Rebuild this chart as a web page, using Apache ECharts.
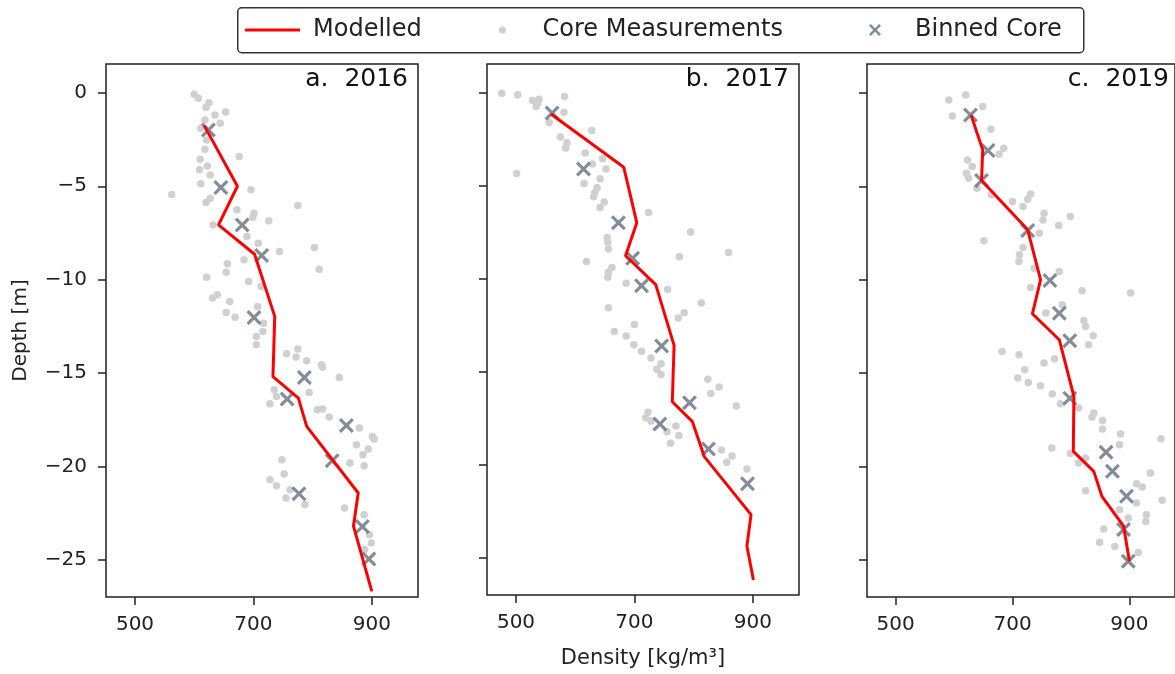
<!DOCTYPE html>
<html>
<head>
<meta charset="utf-8">
<script src="https://cdn.jsdelivr.net/npm/echarts@6/dist/echarts.min.js"></script>
<style>html,body{margin:0;padding:0;background:#fff;}#chart{width:1175px;height:674px;}</style>
</head>
<body>
<div id="chart"></div>
<script>
// ---------- data (density kg/m3, depth m) ----------
const panelTitles = ['a.  2016', 'b.  2017', 'c.  2019'];
const densityTicks = [500, 700, 900];
const depthTicks = [0, -5, -10, -15, -20, -25];
const seriesNames = ['Modelled', 'Core Measurements', 'Binned Core'];

const modelled2016 = [[617,-1.75],[673,-5.0],[641,-7.07],[702,-8.64],[736,-11.97],[733,-15.19],[776,-16.35],[790,-17.86],[877,-21.43],[869,-23.2],[900,-26.7]];
const binned2016 = [[624,-1.98],[645,-5.07],[681,-7.07],[714,-8.71],[701,-12.03],[786,-15.24],[757,-16.4],[857,-17.81],[833,-19.7],[777,-21.47],[884,-23.22],[895,-24.96]];
const core2016 = [[600,-0.07],[607,-0.29],[625,-0.52],[620,-0.77],[635,-1.18],[653,-1.02],[618,-1.45],[644,-1.62],[611,-1.89],[621,-2.52],[618,-3.02],[676,-3.41],[610,-3.55],[622,-3.91],[609,-4.12],[627,-4.39],[611,-4.87],[696,-5.19],[562,-5.44],[627,-5.64],[620,-5.87],[775,-6.03],[672,-6.26],[701,-6.44],[699,-6.66],[726,-6.85],[632,-7.07],[689,-7.69],[708,-8.05],[803,-8.28],[744,-8.49],[684,-8.94],[656,-9.15],[654,-9.6],[811,-9.44],[621,-9.87],[692,-10.1],[713,-10.37],[631,-10.99],[639,-10.81],[660,-11.17],[654,-11.76],[669,-12.01],[707,-11.44],[717,-12.33],[716,-12.78],[705,-13.04],[705,-13.49],[756,-13.97],[775,-13.72],[772,-14.15],[790,-14.35],[815,-14.56],[817,-14.7],[845,-15.24],[794,-16.04],[735,-15.9],[739,-16.26],[728,-16.65],[808,-16.97],[817,-16.93],[828,-17.36],[879,-17.95],[901,-18.4],[904,-18.54],[874,-18.84],[894,-19.07],[885,-19.38],[863,-19.82],[887,-19.97],[748,-19.65],[752,-20.41],[728,-20.72],[739,-21.04],[762,-21.25],[755,-21.7],[787,-22.05],[854,-22.23],[887,-22.59],[896,-23.66],[899,-24.11],[888,-24.46]];

const modelled2017 = [[559,-1.14],[682,-4.0],[704,-6.98],[685,-8.76],[736,-10.31],[767,-13.58],[764,-16.61],[798,-17.68],[818,-19.56],[897,-22.68],[890,-24.37],[901,-26.19]];
const binned2017 = [[561,-1.09],[614,-4.09],[673,-6.98],[697,-8.89],[712,-10.37],[746,-13.61],[793,-16.67],[743,-17.81],[825,-19.15],[891,-21.02]];
const core2017 = [[476,-0.02],[503,-0.11],[528,-0.41],[539,-0.34],[534,-0.73],[537,-0.55],[582,-0.2],[581,-1.05],[556,-1.59],[628,-2.02],[575,-2.37],[586,-2.69],[584,-2.96],[617,-3.23],[646,-3.55],[629,-3.82],[652,-4.09],[501,-4.34],[642,-4.62],[615,-4.87],[637,-5.1],[633,-5.37],[631,-5.59],[649,-5.87],[642,-6.17],[724,-6.44],[795,-7.48],[654,-7.78],[655,-8.05],[656,-8.4],[859,-8.58],[776,-8.81],[619,-9.07],[662,-9.39],[656,-9.65],[655,-9.92],[686,-10.24],[756,-10.58],[813,-11.3],[656,-11.55],[784,-11.83],[774,-12.1],[700,-12.46],[666,-12.83],[686,-13.08],[699,-13.54],[712,-13.9],[728,-14.26],[745,-14.56],[738,-14.86],[745,-15.15],[824,-15.4],[843,-15.81],[829,-16.17],[872,-16.84],[723,-17.18],[719,-17.47],[728,-17.65],[770,-17.92],[755,-18.22],[775,-18.43],[761,-18.84],[847,-19.2],[865,-19.52],[856,-19.86],[890,-20.22]];

const modelled2019 = [[629,-1.18],[649,-3.05],[647,-4.69],[726,-7.33],[748,-10.01],[734,-11.83],[780,-13.22],[805,-16.26],[804,-19.2],[839,-20.27],[853,-21.61],[890,-23.21],[900,-25.09]];
const binned2019 = [[628,-1.18],[658,-3.09],[647,-4.69],[726,-7.37],[764,-10.05],[780,-11.8],[798,-13.28],[798,-16.35],[860,-19.25],[871,-20.27],[895,-21.61],[890,-23.39],[898,-25.09]];
const core2019 = [[591,-0.38],[620,-0.11],[597,-1.23],[649,-0.73],[663,-1.95],[685,-2.96],[677,-3.28],[623,-3.59],[631,-3.94],[621,-4.3],[625,-4.57],[639,-5.1],[664,-5.46],[731,-5.41],[726,-5.69],[700,-5.82],[718,-6.08],[754,-6.44],[799,-6.62],[752,-6.8],[779,-7.1],[746,-7.51],[651,-7.92],[718,-8.28],[712,-8.67],[711,-9.03],[737,-9.39],[780,-9.56],[819,-10.6],[902,-10.72],[731,-10.42],[757,-11.79],[785,-11.35],[822,-12.19],[825,-12.51],[838,-13.01],[830,-13.49],[682,-13.85],[711,-14.03],[754,-14.47],[772,-14.24],[721,-14.83],[709,-15.27],[727,-15.51],[748,-15.68],[768,-16.13],[782,-16.65],[813,-16.88],[839,-17.15],[836,-17.36],[854,-17.54],[854,-18.0],[885,-18.27],[954,-18.52],[883,-18.84],[767,-19.02],[799,-19.32],[825,-19.56],[813,-19.82],[936,-20.36],[912,-20.93],[922,-21.11],[825,-21.31],[956,-21.82],[912,-21.97],[883,-22.32],[929,-22.59],[928,-22.95],[898,-22.77],[856,-23.36],[849,-24.07],[875,-24.29],[915,-24.61]];

const modelledByPanel = [modelled2016, modelled2017, modelled2019];
const binnedByPanel = [binned2016, binned2017, binned2019];
const coreByPanel = [core2016, core2017, core2019];

// ---------- styling / layout ----------
const FONT = 'DejaVu Sans';
const gridLefts = [106, 487, 867];
const GRID_TOP = 64, GRID_W = 312, GRID_H = 533;
const X_MIN = 451, X_MAX = 978, Y_MIN = -27, Y_MAX = 1.55;
const RED = '#ff0000', GREY = '#d0d0d0', SLATE = '#617182';
const X_PATH = 'path://M0,1.5 L1.5,0 L5,3.5 L8.5,0 L10,1.5 L6.5,5 L10,8.5 L8.5,10 L5,6.5 L1.5,10 L0,8.5 L3.5,5 Z';
const minusFmt = v => (v < 0 ? '\u2212' + Math.abs(v) : String(v));

const grids = [], xAxes = [], yAxes = [], titles = [], series = [];
for (let i = 0; i < 3; i++) {
  grids.push({left: gridLefts[i], top: GRID_TOP, width: GRID_W, height: GRID_H,
    show: true, borderColor: '#222', borderWidth: 1.5, backgroundColor: 'transparent'});
  xAxes.push({type: 'value', gridIndex: i, min: X_MIN, max: X_MAX, position: 'bottom',
    axisLine: {show: false, onZero: false}, splitLine: {show: false},
    axisTick: {show: true, length: 8, customValues: densityTicks, lineStyle: {color: '#222', width: 1.5}},
    axisLabel: {customValues: densityTicks, margin: 18, fontSize: 20, fontFamily: FONT, color: '#222'},
    name: i === 1 ? 'Density [kg/m\u00b3]' : '', nameLocation: 'middle', nameGap: 53,
    nameTextStyle: {fontSize: 21, fontFamily: FONT, color: '#222'}});
  yAxes.push({type: 'value', gridIndex: i, min: Y_MIN, max: Y_MAX, position: 'left',
    axisLine: {show: false, onZero: false}, splitLine: {show: false},
    axisTick: {show: true, length: 8, customValues: depthTicks, lineStyle: {color: '#222', width: 1.5}},
    axisLabel: {show: i === 0, customValues: depthTicks, margin: 19, fontSize: 20, fontFamily: FONT, color: '#222', formatter: minusFmt},
    name: i === 0 ? 'Depth [m]' : '', nameLocation: 'middle', nameGap: 75, nameRotate: 90,
    nameTextStyle: {fontSize: 20, fontFamily: FONT, color: '#222'}});
  titles.push({text: panelTitles[i], right: 1175 - (gridLefts[i] + GRID_W - 10), top: 67, padding: 0,
    textStyle: {fontSize: 25, fontWeight: 'normal', fontFamily: FONT, color: '#111'}});
  series.push({name: seriesNames[1], type: 'scatter', xAxisIndex: i, yAxisIndex: i, data: coreByPanel[i],
    symbol: 'circle', symbolSize: 7.5, itemStyle: {color: GREY, opacity: 1}, z: 2, silent: true});
  series.push({name: seriesNames[2], type: 'scatter', xAxisIndex: i, yAxisIndex: i, data: binnedByPanel[i],
    symbol: X_PATH, symbolSize: 15, itemStyle: {color: SLATE}, z: 3, silent: true});
  series.push({name: seriesNames[0], type: 'line', xAxisIndex: i, yAxisIndex: i, data: modelledByPanel[i],
    symbol: 'none', lineStyle: {color: RED, width: 3}, itemStyle: {color: RED}, z: 4, silent: true});
}

const legendText = {fontSize: 24, fontFamily: FONT, color: '#222', lineHeight: 28};
const legends = [
  {left: 245, top: 16, padding: 0, selectedMode: false, itemWidth: 55, itemHeight: 3,
    textStyle: Object.assign({}, legendText, {padding: [0, 0, 0, 8]}),
    data: [{name: seriesNames[0], icon: 'rect'}]},
  {left: 499, top: 16, padding: 0, selectedMode: false, itemWidth: 8, itemHeight: 7,
    textStyle: Object.assign({}, legendText, {padding: [0, 0, 0, 31]}),
    data: [{name: seriesNames[1], icon: 'circle'}]},
  {left: 869, top: 16, padding: 0, selectedMode: false, itemWidth: 12, itemHeight: 12,
    textStyle: Object.assign({}, legendText, {padding: [0, 0, 0, 29]}),
    data: [{name: seriesNames[2], icon: X_PATH}]}
];

const chart = echarts.init(document.getElementById('chart'), null, {renderer: 'canvas'});
chart.setOption({
  animation: false,
  backgroundColor: '#ffffff',
  title: titles,
  legend: legends,
  grid: grids,
  xAxis: xAxes,
  yAxis: yAxes,
  graphic: [{type: 'rect', left: 237, top: 7, z: -10, silent: true,
    shape: {width: 846, height: 45, r: 4},
    style: {fill: '#fff', stroke: '#333', lineWidth: 1.5}}],
  series: series
});
</script>
</body>
</html>
